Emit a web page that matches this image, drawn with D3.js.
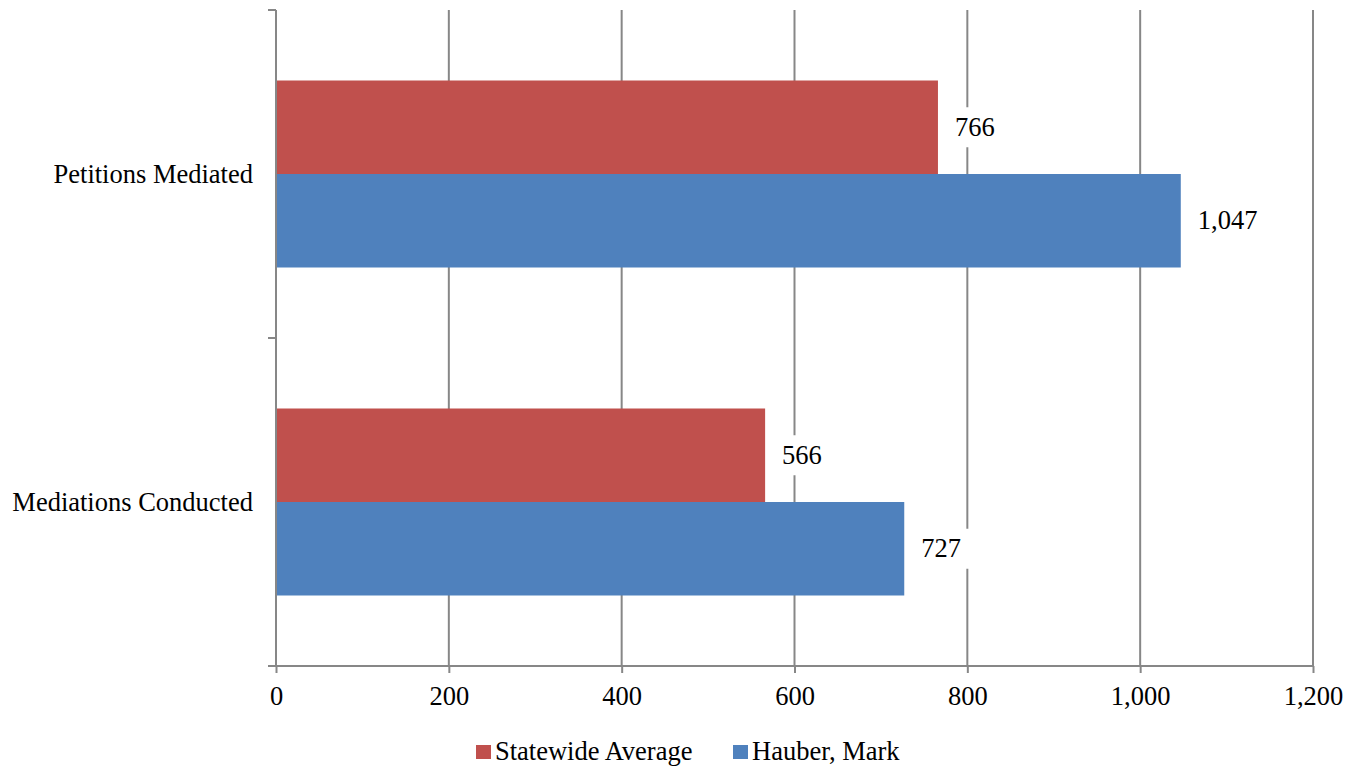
<!DOCTYPE html>
<html>
<head>
<meta charset="utf-8">
<script src="https://cdn.jsdelivr.net/npm/d3@7"></script>
<style>
  body { margin: 0; background: #fff; }
  text { font-family: "Liberation Serif", "Times New Roman", serif; fill: #000; }
</style>
</head>
<body>
<svg id="chart"></svg>
<script>
const categories = ["Petitions Mediated", "Mediations Conducted"];
const seriesNames = ["Statewide Average", "Hauber, Mark"];
const statewideAverage = [766, 566];
const hauberMark = [1047, 727];
const xTicks = [0, 200, 400, 600, 800, 1000, 1200];

const chart = () => {
  const w = 1359;
  const h = 769;
  const left = 276;
  const right = 1313;
  const top = 10;
  const bottom = 666;
  const gridColor = "#878787";
  const colors = ["#C0504D", "#4F81BD"];
  const fontSize = 26.5;
  const seriesValues = [statewideAverage, hauberMark];

  const svg = d3.select("#chart").attr("width", w).attr("height", h);

  const xScale = d3.scaleLinear().domain([0, 1200]).range([left, right]);
  const yScale = d3.scaleBand().domain(categories).range([top, bottom]);
  const inner = d3
    .scaleBand()
    .domain(seriesNames)
    .range([0, yScale.bandwidth()])
    .paddingInner(0)
    .paddingOuter(0.754);

  // vertical gridlines
  svg
    .append("g")
    .selectAll("line")
    .data(xTicks.slice(1))
    .enter()
    .append("line")
    .attr("x1", (d) => xScale(d))
    .attr("x2", (d) => xScale(d))
    .attr("y1", top)
    .attr("y2", bottom)
    .style("stroke", gridColor)
    .style("stroke-width", 2);

  // bars
  seriesNames.forEach((name, si) => {
    svg
      .append("g")
      .selectAll("rect")
      .data(categories)
      .enter()
      .append("rect")
      .attr("x", xScale(0))
      .attr("y", (c) => yScale(c) + inner(name))
      .attr("width", (c, i) => xScale(seriesValues[si][i]) - xScale(0))
      .attr("height", inner.bandwidth())
      .style("fill", colors[si]);
  });

  // data labels with white boxes
  const fmt = d3.format(",");
  seriesNames.forEach((name, si) => {
    categories.forEach((c, i) => {
      const v = seriesValues[si][i];
      const cy = yScale(c) + inner(name) + inner.bandwidth() / 2;
      const g = svg.append("g");
      const box = g.append("rect").style("fill", "#fff");
      const t = g
        .append("text")
        .attr("x", xScale(v) + 17)
        .attr("y", cy)
        .attr("dy", "0.33em")
        .style("font-size", fontSize + "px")
        .text(fmt(v));
      const bb = t.node().getBBox();
      box
        .attr("x", bb.x - 9)
        .attr("y", cy - 20)
        .attr("width", bb.width + 18)
        .attr("height", 40);
    });
  });

  // x axis
  const xAxis = d3
    .axisBottom(xScale)
    .tickValues(xTicks)
    .tickSize(7)
    .tickSizeOuter(0)
    .tickPadding(13)
    .tickFormat(fmt);
  const gx = svg
    .append("g")
    .attr("transform", "translate(0," + bottom + ")")
    .call(xAxis);
  gx.select(".domain").attr("d", "M" + (left - 8) + ",0H" + right).style("stroke", gridColor).style("stroke-width", 2);
  gx.selectAll(".tick line").style("stroke", gridColor).style("stroke-width", 2);
  gx.selectAll(".tick text")
    .style("font-family", '"Liberation Serif", "Times New Roman", serif')
    .style("font-size", fontSize + "px")
    .style("fill", "#000");

  // y axis
  const edges = categories.map((c) => yScale(c)).concat([bottom]);
  svg
    .append("line")
    .attr("x1", left)
    .attr("x2", left)
    .attr("y1", top)
    .attr("y2", bottom)
    .style("stroke", gridColor)
    .style("stroke-width", 2);
  svg
    .append("g")
    .selectAll("line")
    .data(edges)
    .enter()
    .append("line")
    .attr("x1", left - 8)
    .attr("x2", left)
    .attr("y1", (d) => d)
    .attr("y2", (d) => d)
    .style("stroke", gridColor)
    .style("stroke-width", 2);
  svg
    .append("g")
    .selectAll("text")
    .data(categories)
    .enter()
    .append("text")
    .attr("x", left - 23)
    .attr("y", (c) => yScale(c) + yScale.bandwidth() / 2)
    .attr("dy", "0.33em")
    .attr("text-anchor", "end")
    .style("font-size", fontSize + "px")
    .text((c) => c);

  // legend
  const legendX = [476, 733];
  seriesNames.forEach((name, si) => {
    svg
      .append("rect")
      .attr("x", legendX[si])
      .attr("y", 745)
      .attr("width", 15)
      .attr("height", 14)
      .style("fill", colors[si]);
    svg
      .append("text")
      .attr("x", legendX[si] + 19)
      .attr("y", 760)
      .style("font-size", fontSize + "px")
      .text(name);
  });
};

chart();
</script>
</body>
</html>
